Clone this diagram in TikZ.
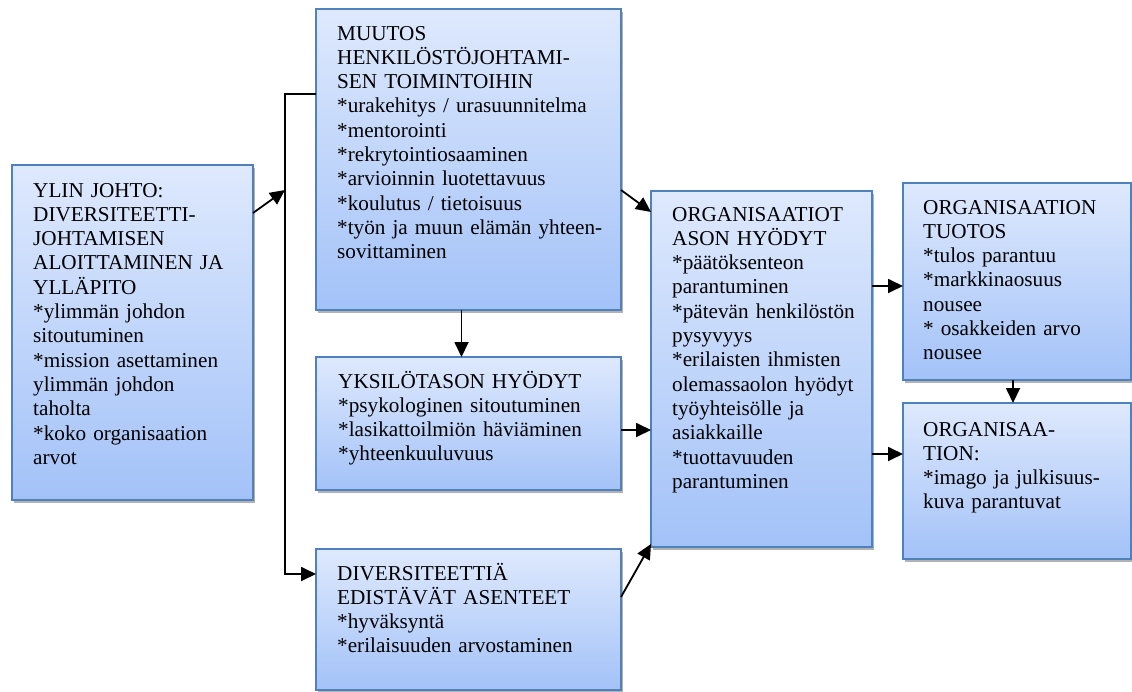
\documentclass[tikz,border=0pt]{standalone}
\usepackage{fontspec}
\setmainfont{Liberation Serif}
\usetikzlibrary{arrows.meta,shadows}
\definecolor{boxtop}{RGB}{222,233,253}
\definecolor{boxbot}{RGB}{163,194,248}
\definecolor{boxline}{RGB}{79,129,189}
\newcommand{\st}{\char`\*}
\tikzset{
  box/.style={draw=boxline, line width=1.5pt, top color=boxtop, bottom color=boxbot,
    anchor=north west, inner sep=0pt, outer sep=0pt,
    drop shadow={shadow xshift=2pt, shadow yshift=-3pt, opacity=0.3, fill=black}},
  txt/.style={anchor=base west, inner sep=0pt, align=left,
    font=\fontsize{21.2}{24.3}\selectfont},
  arr/.style={line width=1.8pt, -{Triangle[length=15pt,width=14pt]}},
  conn/.style={line width=1.8pt}
}
\begin{document}
\begin{tikzpicture}[x=1pt,y=-1pt]
\useasboundingbox[fill=white] (0,0) rectangle (1132,691);
% boxes
\node[box, minimum width=241pt, minimum height=335pt] (A) at (12,165) {};
\node[box, minimum width=305pt, minimum height=301pt] (B) at (316,9) {};
\node[box, minimum width=305pt, minimum height=133pt] (C) at (316,357) {};
\node[box, minimum width=305pt, minimum height=141pt] (D) at (316,549) {};
\node[box, minimum width=221pt, minimum height=356pt] (E) at (651,191) {};
\node[box, minimum width=228pt, minimum height=197pt] (F) at (903,183) {};
\node[box, minimum width=228pt, minimum height=156pt] (G) at (903,403) {};
% texts
\node[txt, text width=215pt] (At) at ([xshift=21pt,yshift=-32pt]A.north west)
 {YLIN JOHTO:\\DIVERSITEETTI-\\JOHTAMISEN\\ALOITTAMINEN JA\\YLLÄPITO\\\st ylimmän johdon\\sitoutuminen\\\st mission asettaminen\\ylimmän johdon\\taholta\\\st koko organisaation\\arvot};
\node[txt, text width=280pt] (Bt) at ([xshift=21pt,yshift=-31pt]B.north west)
 {MUUTOS\\HENKILÖSTÖJOHTAMI-\\SEN TOIMINTOIHIN\\\st urakehitys / urasuunnitelma\\\st mentorointi\\\st rekrytointiosaaminen\\\st arvioinnin luotettavuus\\\st koulutus / tietoisuus\\\st työn ja muun elämän yhteen-\\sovittaminen};
\node[txt, text width=280pt] (Ct) at ([xshift=22pt,yshift=-31pt]C.north west)
 {YKSILÖTASON HYÖDYT\\\st psykologinen sitoutuminen\\\st lasikattoilmiön häviäminen\\\st yhteenkuuluvuus};
\node[txt, text width=280pt] (Dt) at ([xshift=21pt,yshift=-31pt]D.north west)
 {DIVERSITEETTIÄ\\EDISTÄVÄT ASENTEET\\\st hyväksyntä\\\st erilaisuuden arvostaminen};
\node[txt, text width=196pt] (Et) at ([xshift=21pt,yshift=-30pt]E.north west)
 {ORGANISAATIOT\\ASON HYÖDYT\\\st päätöksenteon\\parantuminen\\\st pätevän henkilöstön\\pysyvyys\\\st erilaisten ihmisten\\olemassaolon hyödyt\\työyhteisölle ja\\asiakkaille\\\st tuottavuuden\\parantuminen};
\node[txt, text width=203pt] (Ft) at ([xshift=20pt,yshift=-31pt]F.north west)
 {ORGANISAATION\\TUOTOS\\\st tulos parantuu\\\st markkinaosuus\\nousee\\\st{} osakkeiden arvo\\nousee};
\node[txt, text width=203pt] (Gt) at ([xshift=20pt,yshift=-33pt]G.north west)
 {ORGANISAA-\\TION:\\\st imago ja julkisuus-\\kuva parantuvat};
% coordinates
\coordinate (trunkTop) at (285,94);
\coordinate (trunkIn) at (285,190);
\coordinate (trunkBot) at (285,574);
\coordinate (a1) at ([yshift=-48pt]A.north east);
\coordinate (b1) at ([xshift=-7pt]B.south);
\coordinate (b2) at ([yshift=-181pt]B.north east);
\coordinate (e0) at ([yshift=-21pt]E.north west);
\coordinate (c1) at ([yshift=-73pt]C.north east);
\coordinate (d1) at ([yshift=-48pt]D.north east);
\coordinate (e3) at ([yshift=3pt]E.south west);
\coordinate (e1) at ([yshift=-95pt]E.north east);
\coordinate (e2) at ([yshift=-263pt]E.north east);
\coordinate (f1) at ([xshift=-4pt]F.south);
% connectors
\draw[arr] (a1) -- (trunkIn);
\draw[arr] (B.west |- trunkTop) -- (trunkTop) -- (trunkBot) -- (D.west |- trunkBot);
\draw[arr] (b1) -- (b1 |- C.north);
\draw[arr] (b2) -- (e0);
\draw[arr] (c1) -- (c1 -| E.west);
\draw[arr] (d1) -- (e3);
\draw[arr] (e1) -- (e1 -| F.west);
\draw[arr] (e2) -- (e2 -| G.west);
\draw[arr] (f1) -- (f1 |- G.north);
\end{tikzpicture}
\end{document}
